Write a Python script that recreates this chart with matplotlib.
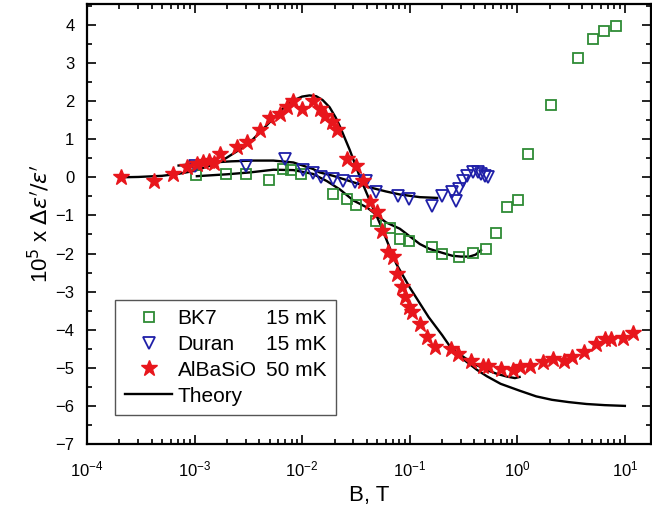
import numpy as np
import matplotlib
matplotlib.use("Agg")
import matplotlib.pyplot as plt
from matplotlib.lines import Line2D
from matplotlib.ticker import LogLocator, MultipleLocator, FixedLocator

plt.rcParams['font.family'] = ['Liberation Sans', 'DejaVu Sans']

# BK7, 15 mK
bk7_B = [1.03e-3, 1.98e-3, 3.0e-3, 4.9e-3, 6.7e-3, 7.9e-3, 9.8e-3, 1.94e-2, 2.6e-2,
         3.15e-2, 4.9e-2, 6.6e-2, 8.1e-2, 9.8e-2, 1.6e-1, 2.0e-1, 2.9e-1, 3.9e-1,
         5.1e-1, 6.4e-1, 8.0e-1, 1.01, 1.27, 2.05, 3.66, 5.05, 6.4, 8.2]
bk7_y = [0.07, 0.09, 0.09, -0.06, 0.22, 0.18, 0.09, -0.44, -0.57,
         -0.72, -1.15, -1.33, -1.62, -1.66, -1.82, -2.01, -2.08, -1.99,
         -1.88, -1.46, -0.79, -0.59, 0.61, 1.90, 3.12, 3.63, 3.85, 3.98]

# Duran, 15 mK
duran_B = [1.0e-3, 3.0e-3, 6.9e-3, 1.02e-2, 1.26e-2, 1.5e-2, 1.94e-2, 2.4e-2, 3.1e-2,
           3.9e-2, 4.9e-2, 7.8e-2, 9.8e-2, 1.6e-1, 1.98e-1, 2.45e-1, 2.7e-1, 2.9e-1,
           3.1e-1, 3.4e-1, 3.9e-1, 4.3e-1, 4.6e-1, 5.0e-1, 5.35e-1]
duran_y = [0.31, 0.31, 0.47, 0.18, 0.12, 0.0, -0.04, -0.09, -0.13,
           -0.09, -0.39, -0.48, -0.57, -0.74, -0.48, -0.39, -0.61, -0.30,
           -0.09, 0.04, 0.13, 0.13, 0.09, 0.04, 0.0]

# AlBaSiO, 50 mK
albasio_B = [2.06e-4, 4.2e-4, 6.25e-4, 8.5e-4, 1.06e-3, 1.2e-3, 1.35e-3, 1.5e-3,
             1.72e-3, 2.46e-3, 3.05e-3, 4.05e-3, 5.0e-3, 6.2e-3, 7.2e-3, 8.3e-3,
             1.0e-2, 1.25e-2, 1.45e-2, 1.63e-2, 1.88e-2, 2.1e-2, 2.64e-2, 3.2e-2,
             3.7e-2, 4.3e-2, 4.95e-2, 5.5e-2, 6.3e-2, 7.0e-2, 7.6e-2, 8.5e-2,
             9.1e-2, 9.8e-2, 1.06e-1, 1.25e-1, 1.44e-1, 1.72e-1, 2.4e-1, 2.8e-1,
             3.75e-1, 4.8e-1, 5.35e-1, 7.1e-1, 9.1e-1, 1.05, 1.3, 1.75, 2.15,
             2.7, 3.2, 4.2, 5.4, 6.5, 7.5, 9.6, 11.9]
albasio_y = [0.0, -0.1, 0.1, 0.26, 0.35, 0.40, 0.42, 0.38,
             0.61, 0.79, 0.92, 1.23, 1.57, 1.66, 1.84, 2.01,
             1.80, 2.01, 1.80, 1.62, 1.44, 1.23, 0.48, 0.31,
             -0.09, -0.66, -0.92, -1.40, -1.97, -2.10, -2.54, -2.89,
             -3.15, -3.41, -3.54, -3.85, -4.18, -4.46, -4.50, -4.64,
             -4.81, -4.94, -4.94, -5.03, -5.07, -4.99, -4.94, -4.86, -4.77,
             -4.81, -4.72, -4.59, -4.37, -4.24, -4.24, -4.21, -4.09]

# theory curves
th_albasio_B = [2.0e-4, 3e-4, 5e-4, 7e-4, 1.0e-3, 1.4e-3, 1.85e-3, 2.6e-3, 3.3e-3,
                4.05e-3, 5e-3, 5.8e-3, 7e-3, 8.3e-3, 1.0e-2, 1.17e-2, 1.35e-2,
                1.55e-2, 1.8e-2, 2.05e-2, 2.25e-2, 2.5e-2, 2.77e-2, 3.1e-2, 3.45e-2,
                4.25e-2, 5.3e-2, 6.5e-2, 7.5e-2, 1.0e-1, 1.25e-1, 1.5e-1, 2.0e-1,
                2.45e-1, 3.3e-1, 4.2e-1, 5.2e-1, 7e-1, 1.05, 1.5, 2.1, 3.0, 4.4,
                6.5, 10.0]
th_albasio_y = [0.0, 0.01, 0.04, 0.09, 0.17, 0.31, 0.46, 0.72, 0.93,
                1.18, 1.45, 1.64, 1.87, 2.02, 2.12, 2.15, 2.13,
                2.03, 1.84, 1.57, 1.33, 1.02, 0.72, 0.35, 0.0,
                -0.61, -1.22, -1.84, -2.27, -2.89, -3.32, -3.67, -4.14,
                -4.50, -4.82, -5.05, -5.22, -5.42, -5.60, -5.75, -5.84, -5.90, -5.95,
                -5.98, -6.0]
th_short_B = [2.45e-1, 3.3e-1, 4.2e-1, 5.2e-1, 6.5e-1, 8.0e-1, 9.5e-1, 1.05]
th_short_y = [-4.50, -4.75, -4.93, -5.06, -5.16, -5.23, -5.27, -5.24]

th_bk7_B = [1.05e-3, 2e-3, 3.3e-3, 5.4e-3, 8.3e-3, 1.26e-2, 1.7e-2, 2.25e-2, 3.0e-2,
            4.0e-2, 6.0e-2, 8.1e-2, 1.24e-1, 1.53e-1, 2.0e-1, 2.5e-1, 3.0e-1,
            3.6e-1, 4.1e-1, 4.6e-1]
th_bk7_y = [0.03, 0.08, 0.13, 0.20, 0.19, 0.09, -0.10, -0.32, -0.61,
            -0.79, -1.18, -1.35, -1.75, -1.88, -1.98, -2.06, -2.08,
            -2.08, -2.03, -1.91]

th_duran_B = [7.1e-4, 1.12e-3, 2.2e-3, 3.5e-3, 5.4e-3, 8.3e-3, 1.26e-2, 1.45e-2,
              1.94e-2, 3.0e-2, 4.2e-2, 6.0e-2, 8.1e-2, 1.24e-1, 1.8e-1]
th_duran_y = [0.31, 0.37, 0.42, 0.44, 0.44, 0.39, 0.22, 0.13,
              0.04, -0.13, -0.26, -0.37, -0.45, -0.52, -0.54]

temps = ["15 mK", "15 mK", "50 mK"]

c_green = '#2e8b35'
c_blue = '#1f1fa8'
c_red = '#e8161c'

fig = plt.figure(figsize=(6.52, 5.14), dpi=100)
ax = fig.add_axes([87 / 652, 70 / 514, 564 / 652, 440 / 514])

lw_th = 1.7
for bx, by in [(th_albasio_B, th_albasio_y), (th_short_B, th_short_y),
               (th_bk7_B, th_bk7_y), (th_duran_B, th_duran_y)]:
    ax.plot(bx, by, color='black', lw=lw_th, zorder=3)

ax.plot(bk7_B, bk7_y, ls='none', marker='s', ms=7, mfc='none', mec=c_green, mew=1.3, zorder=4)
ax.plot(duran_B, duran_y, ls='none', marker='v', ms=9, mfc='none', mec=c_blue, mew=1.3, zorder=4)
ax.plot(albasio_B, albasio_y, ls='none', marker='*', ms=12, color=c_red, mec=c_red, zorder=4)

ax.set_xscale('log')
ax.set_xlim(1e-4, 17.5)
ax.set_ylim(-7, 4.55)

ax.xaxis.set_major_locator(FixedLocator([1e-4, 1e-3, 1e-2, 1e-1, 1, 10]))
ax.xaxis.set_minor_locator(LogLocator(base=10, subs=np.arange(2, 10), numticks=20))
ax.yaxis.set_major_locator(MultipleLocator(1))
ax.yaxis.set_minor_locator(MultipleLocator(0.5))

ax.tick_params(which='both', direction='in', top=True, right=True, width=1.2)
ax.tick_params(which='major', length=6.5)
ax.tick_params(which='minor', length=3.5)
ax.tick_params(axis='y', labelsize=12, pad=9)
ax.tick_params(axis='x', labelsize=12, pad=11)
for s in ax.spines.values():
    s.set_linewidth(1.6)

ax.set_xlabel('B, T', fontsize=16, labelpad=4)
ax.set_ylabel("10$^5$ x $\\Delta\\varepsilon'/\\varepsilon'$", fontsize=16, labelpad=2)

# legend: names in the first column, temperatures in the second
h_bk7 = Line2D([], [], ls='none', marker='s', ms=7, mfc='none', mec=c_green, mew=1.3)
h_dur = Line2D([], [], ls='none', marker='v', ms=9, mfc='none', mec=c_blue, mew=1.3)
h_alb = Line2D([], [], ls='none', marker='*', ms=12, color=c_red)
h_th = Line2D([], [], color='black', lw=lw_th)
blank = Line2D([], [], ls='none')
handles = [h_bk7, h_dur, h_alb, h_th, blank, blank, blank, blank]
labels = ['BK7', 'Duran', 'AlBaSiO', 'Theory'] + temps + ['']
leg = ax.legend(handles, labels, ncol=2, loc='lower left', bbox_to_anchor=(0.05, 0.066),
                borderaxespad=0, fontsize=15, numpoints=1, handlelength=2.3,
                handletextpad=0.25, columnspacing=-2.1, labelspacing=0.33,
                fancybox=False, edgecolor='#555555', framealpha=1,
                borderpad=0.45)
leg.get_frame().set_linewidth(1.0)

fig.savefig('out.png', dpi=100)
